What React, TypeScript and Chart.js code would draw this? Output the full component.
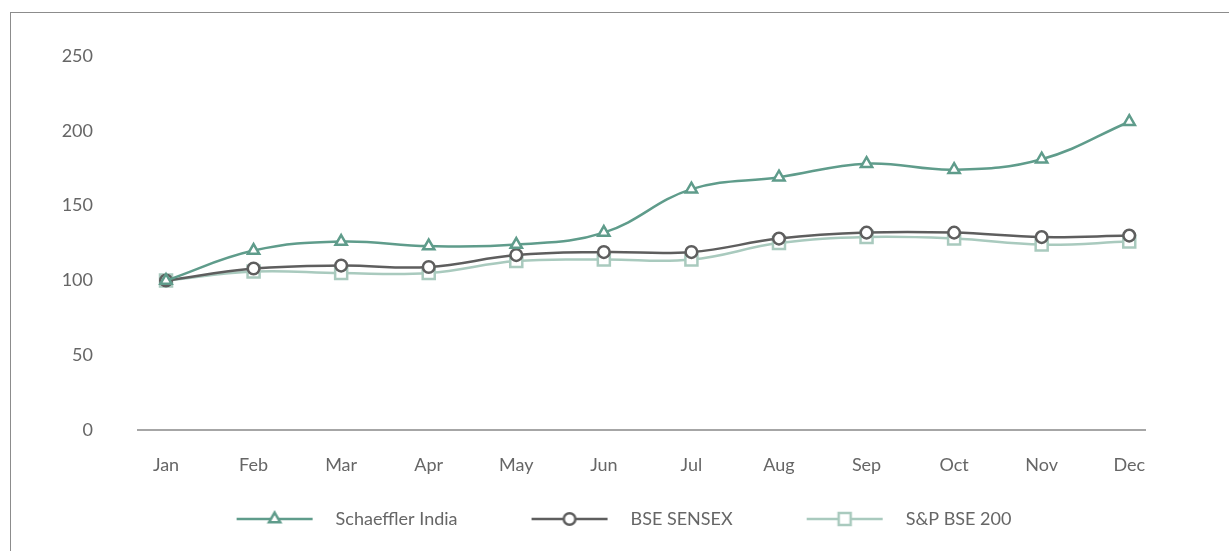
import React, { useEffect, useRef } from 'react';
import { Chart, registerables } from 'chart.js';

Chart.register(...registerables);

const months = ['Jan', 'Feb', 'Mar', 'Apr', 'May', 'Jun', 'Jul', 'Aug', 'Sep', 'Oct', 'Nov', 'Dec'];
const schaeffler = [100, 120, 126, 123, 124, 132, 161, 169, 178, 174, 181, 206];
const sensex = [100, 108, 110, 109, 117, 119, 119, 128, 132, 132, 129, 130];
const bse200 = [100, 106, 105, 105, 113, 114, 114, 125, 129, 128, 124, 126];
const yTicks = [0, 50, 100, 150, 200, 250];
const seriesNames = ['Schaeffler India', 'BSE SENSEX', 'S&P BSE 200'];

const GREEN = '#5f9c8b';
const GRAY = '#5e5e5e';
const LIGHT = '#a9cabe';
const TEXT = '#666666';
const FONT = 'Lato';

const LEG_PAD = 64;
const LEG_LINE = 76;
const LEG_GAP = 14;
const LEG_W = LEG_PAD + LEG_LINE + LEG_GAP;
const PAD_LEFT = 39;

function drawMarker(ctx: CanvasRenderingContext2D, style: string, x: number, y: number, r: number) {
  ctx.beginPath();
  if (style === 'triangle') {
    let rad = 0;
    ctx.moveTo(x + Math.sin(rad) * r, y - Math.cos(rad) * r);
    rad += (2 * Math.PI) / 3;
    ctx.lineTo(x + Math.sin(rad) * r, y - Math.cos(rad) * r);
    rad += (2 * Math.PI) / 3;
    ctx.lineTo(x + Math.sin(rad) * r, y - Math.cos(rad) * r);
    ctx.closePath();
  } else if (style === 'circle') {
    ctx.arc(x, y, r, 0, Math.PI * 2);
  } else {
    const s = Math.SQRT1_2 * r;
    ctx.rect(x - s, y - s, 2 * s, 2 * s);
  }
  ctx.fill();
  ctx.stroke();
}

function makeLegendImg(color: string, style: string, r: number) {
  const c = document.createElement('canvas');
  const h = 20;
  c.width = LEG_W;
  c.height = h;
  const ctx = c.getContext('2d') as CanvasRenderingContext2D;
  ctx.strokeStyle = color;
  ctx.lineWidth = 2.5;
  ctx.beginPath();
  ctx.moveTo(LEG_PAD, h / 2);
  ctx.lineTo(LEG_PAD + LEG_LINE, h / 2);
  ctx.stroke();
  ctx.fillStyle = '#ffffff';
  drawMarker(ctx, style, LEG_PAD + LEG_LINE / 2, h / 2, r);
  return c;
}

export default function App() {
  const ref = useRef<HTMLCanvasElement | null>(null);

  useEffect(() => {
    if (!ref.current) return;
    const styles = ['triangle', 'circle', 'rect'];
    const colors = [GREEN, GRAY, LIGHT];
    const radii = [6.5, 5.8, 8.5];
    const legendImgs = styles.map((s, i) => makeLegendImg(colors[i], s, radii[i]));
    const series = [schaeffler, sensex, bse200];

    const chart = new Chart(ref.current, {
      type: 'line',
      data: {
        datasets: series.map((vals, i) => ({
          label: seriesNames[i],
          data: vals.map((v, j) => ({ x: j, y: v })),
          borderColor: colors[i],
          borderWidth: 2.5,
          backgroundColor: '#ffffff',
          pointStyle: styles[i],
          pointRadius: radii[i],
          pointBorderWidth: 2.5,
          pointBorderColor: colors[i],
          pointBackgroundColor: '#ffffff',
          tension: 0.4,
          fill: false,
        })),
      },
      options: {
        animation: false,
        responsive: false,
        maintainAspectRatio: false,
        layout: { padding: { left: PAD_LEFT, right: 84, top: 52, bottom: 13 } },
        scales: {
          x: {
            type: 'linear',
            min: -0.32,
            max: 11.18,
            afterBuildTicks: (scale: any) => {
              scale.ticks = months.map((_, i) => ({ value: i }));
            },
            grid: { display: false, drawTicks: false },
            border: { display: true, color: '#a6a6a6', width: 2 },
            ticks: {
              autoSkip: false,
              maxRotation: 0,
              padding: 24,
              color: TEXT,
              font: { family: FONT, size: 18 },
              callback: (v: any) => months[v as number] ?? '',
            },
          },
          y: {
            min: 0,
            max: 250,
            afterBuildTicks: (scale: any) => {
              scale.ticks = yTicks.map((v) => ({ value: v }));
            },
            afterFit: (scale: any) => {
              scale.width = 138 - PAD_LEFT;
            },
            grid: { display: false, drawTicks: false },
            border: { display: false },
            ticks: {
              padding: 45,
              color: TEXT,
              font: { family: FONT, size: 18 },
            },
          },
        },
        plugins: {
          tooltip: { enabled: false },
          legend: {
            position: 'bottom',
            labels: {
              usePointStyle: true,
              pointStyleWidth: LEG_W,
              boxHeight: 18,
              padding: 10,
              color: TEXT,
              font: { family: FONT, size: 18 },
              generateLabels: (ch: any) => {
                const items = (Chart.defaults.plugins.legend.labels as any).generateLabels(ch);
                items.forEach((it: any, i: number) => {
                  it.pointStyle = legendImgs[i];
                });
                return items;
              },
            },
          },
        },
      },
    } as any);

    return () => chart.destroy();
  }, []);

  return (
    <div style={{ position: 'fixed', left: 0, top: 0, width: 1229, height: 551, background: '#fff', overflow: 'hidden' }}>
      <div
        style={{
          position: 'absolute',
          left: 10,
          top: 12,
          width: 1400,
          height: 700,
          borderLeft: '1.5px solid #8c8c8c',
          borderTop: '1.5px solid #8c8c8c',
        }}
      />
      <canvas ref={ref} width={1229} height={551} style={{ position: 'absolute', left: 0, top: 0, width: 1229, height: 551 }} />
    </div>
  );
}
